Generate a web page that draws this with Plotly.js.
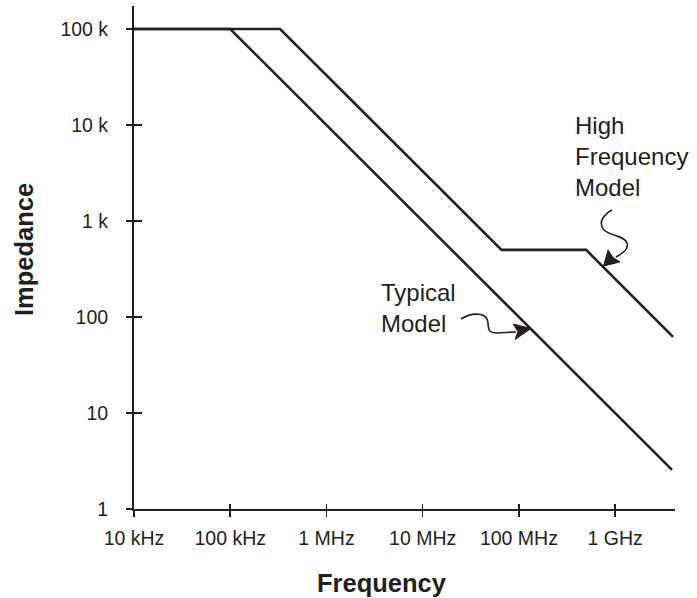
<!DOCTYPE html>
<html>
<head>
<meta charset="utf-8">
<script src="https://cdn.plot.ly/plotly-3.0.1.min.js"></script>
<style>html,body{margin:0;padding:0;background:#fff;}#chart{width:697px;height:598px;}</style>
</head>
<body>
<div id="chart"></div>
<script>
// ---- data ----
var typicalFreq = [1e4, 1e5, 3.9e9];
var typicalImpedance = [1e5, 1e5, 2.56];
var highFreq = [1e4, 3.3e5, 6.6e7, 5e8, 4e9];
var highImpedance = [1e5, 1e5, 500, 500, 62];
var xTickVals = [1e4, 1e5, 1e6, 1e7, 1e8, 1e9];
var xTickText = ['10 kHz', '100 kHz', '1 MHz', '10 MHz', '100 MHz', '1 GHz'];
var yTickVals = [1, 10, 100, 1e3, 1e4, 1e5];
var yTickText = ['1', '10', '100', '1 k', '10 k', '100 k'];
var typicalLabel = 'Typical<br>Model';
var highLabel = 'High<br>Frequency<br>Model';

// ---- layout geometry ----
var W = 697, H = 598;
var M = {l: 134, r: 22, t: 6, b: 89};
var PW = W - M.l - M.r, PH = H - M.t - M.b;
function px(x) { return (x - M.l) / PW; }
function py(y) { return (H - M.b - y) / PH; }
function path(pts) { // pts: list of [cmd, x, y, ...]
  return pts.map(function (p) {
    var s = p[0];
    for (var i = 1; i < p.length; i += 2) s += ' ' + px(p[i]).toFixed(4) + ',' + py(p[i + 1]).toFixed(4);
    return s;
  }).join(' ');
}

var INK = '#231f20';
var FONT = '"Liberation Sans", Arial, sans-serif';
var XR = [4, 9.622];
var YR = [0, 5.24];

var traces = [
  {x: typicalFreq, y: typicalImpedance, type: 'scatter', mode: 'lines', name: 'Typical Model',
   line: {color: INK, width: 2.6}, xaxis: 'x', yaxis: 'y', hoverinfo: 'x+y'},
  {x: highFreq, y: highImpedance, type: 'scatter', mode: 'lines', name: 'High Frequency Model',
   line: {color: INK, width: 2.6}, xaxis: 'x2', yaxis: 'y2', hoverinfo: 'x+y'}
];

var baseAxis = {
  type: 'log', showgrid: false, zeroline: false, fixedrange: true
};

var layout = {
  width: W, height: H,
  margin: M,
  paper_bgcolor: '#ffffff', plot_bgcolor: '#ffffff',
  showlegend: false,
  font: {family: FONT, color: INK, size: 19.5},
  xaxis: Object.assign({}, baseAxis, {
    range: XR, tickmode: 'array', tickvals: xTickVals, ticktext: xTickText,
    ticks: 'outside', ticklen: 6, tickwidth: 1.5, tickcolor: INK,
    showline: true, linecolor: INK, linewidth: 2,
    tickfont: {family: FONT, size: 19.5, color: INK}, ticklabelstandoff: 5
  }),
  yaxis: Object.assign({}, baseAxis, {
    range: YR, tickmode: 'array', tickvals: yTickVals, ticktext: yTickText,
    ticks: 'outside', ticklen: 6, tickwidth: 1.5, tickcolor: INK,
    showline: true, linecolor: INK, linewidth: 2,
    tickfont: {family: FONT, size: 19.5, color: INK}, ticklabelstandoff: 14
  }),
  xaxis2: Object.assign({}, baseAxis, {
    range: XR, overlaying: 'x', anchor: 'y', side: 'bottom',
    tickmode: 'array', tickvals: xTickVals, showticklabels: false,
    ticks: 'inside', ticklen: 5, tickwidth: 1.5, tickcolor: INK, showline: false
  }),
  yaxis2: Object.assign({}, baseAxis, {
    range: YR, overlaying: 'y', anchor: 'x', side: 'left',
    tickmode: 'array', tickvals: yTickVals, showticklabels: false,
    ticks: 'inside', ticklen: 8, tickwidth: 1.5, tickcolor: INK, showline: false
  }),
  annotations: [
    {text: '<b>Impedance</b>', xref: 'paper', yref: 'paper', x: px(24), y: py(250),
     xanchor: 'center', yanchor: 'middle', textangle: -90, showarrow: false,
     font: {family: FONT, size: 25.5, color: INK}},
    {text: '<b>Frequency</b>', xref: 'paper', yref: 'paper', x: px(382), y: py(583),
     xanchor: 'center', yanchor: 'middle', showarrow: false,
     font: {family: FONT, size: 25.5, color: INK}},
    {text: typicalLabel, xref: 'paper', yref: 'paper', x: px(379), y: py(308),
     xanchor: 'left', yanchor: 'middle', align: 'left', showarrow: false,
     font: {family: FONT, size: 24, color: INK}},
    {text: highLabel, xref: 'paper', yref: 'paper', x: px(573), y: py(157),
     xanchor: 'left', yanchor: 'middle', align: 'left', showarrow: false,
     font: {family: FONT, size: 24, color: INK}}
  ],
  shapes: [
    {type: 'path', xref: 'paper', yref: 'paper', layer: 'above',
     path: path([['M', 461, 319], ['C', 472, 312, 484, 313, 487, 319], ['C', 490, 326, 485, 333, 497, 333], ['L', 516, 332]]),
     line: {color: INK, width: 1.6}},
    {type: 'path', xref: 'paper', yref: 'paper', layer: 'above',
     path: path([['M', 513, 324], ['L', 531, 328.5], ['L', 515, 339.5], ['L', 518, 331.5]]) + ' Z',
     fillcolor: INK, line: {color: INK, width: 1}},
    {type: 'path', xref: 'paper', yref: 'paper', layer: 'above',
     path: path([['M', 612, 210], ['C', 605, 214, 597, 222, 604, 230], ['C', 610, 236, 624, 235, 627, 243], ['C', 629, 249, 623, 253, 616, 257]]),
     line: {color: INK, width: 1.6}},
    {type: 'path', xref: 'paper', yref: 'paper', layer: 'above',
     path: path([['M', 608, 250], ['L', 603.5, 266], ['L', 620, 262], ['L', 613, 257.5]]) + ' Z',
     fillcolor: INK, line: {color: INK, width: 1}}
  ]
};

Plotly.newPlot('chart', traces, layout, {displayModeBar: false, staticPlot: true});
</script>
</body>
</html>
